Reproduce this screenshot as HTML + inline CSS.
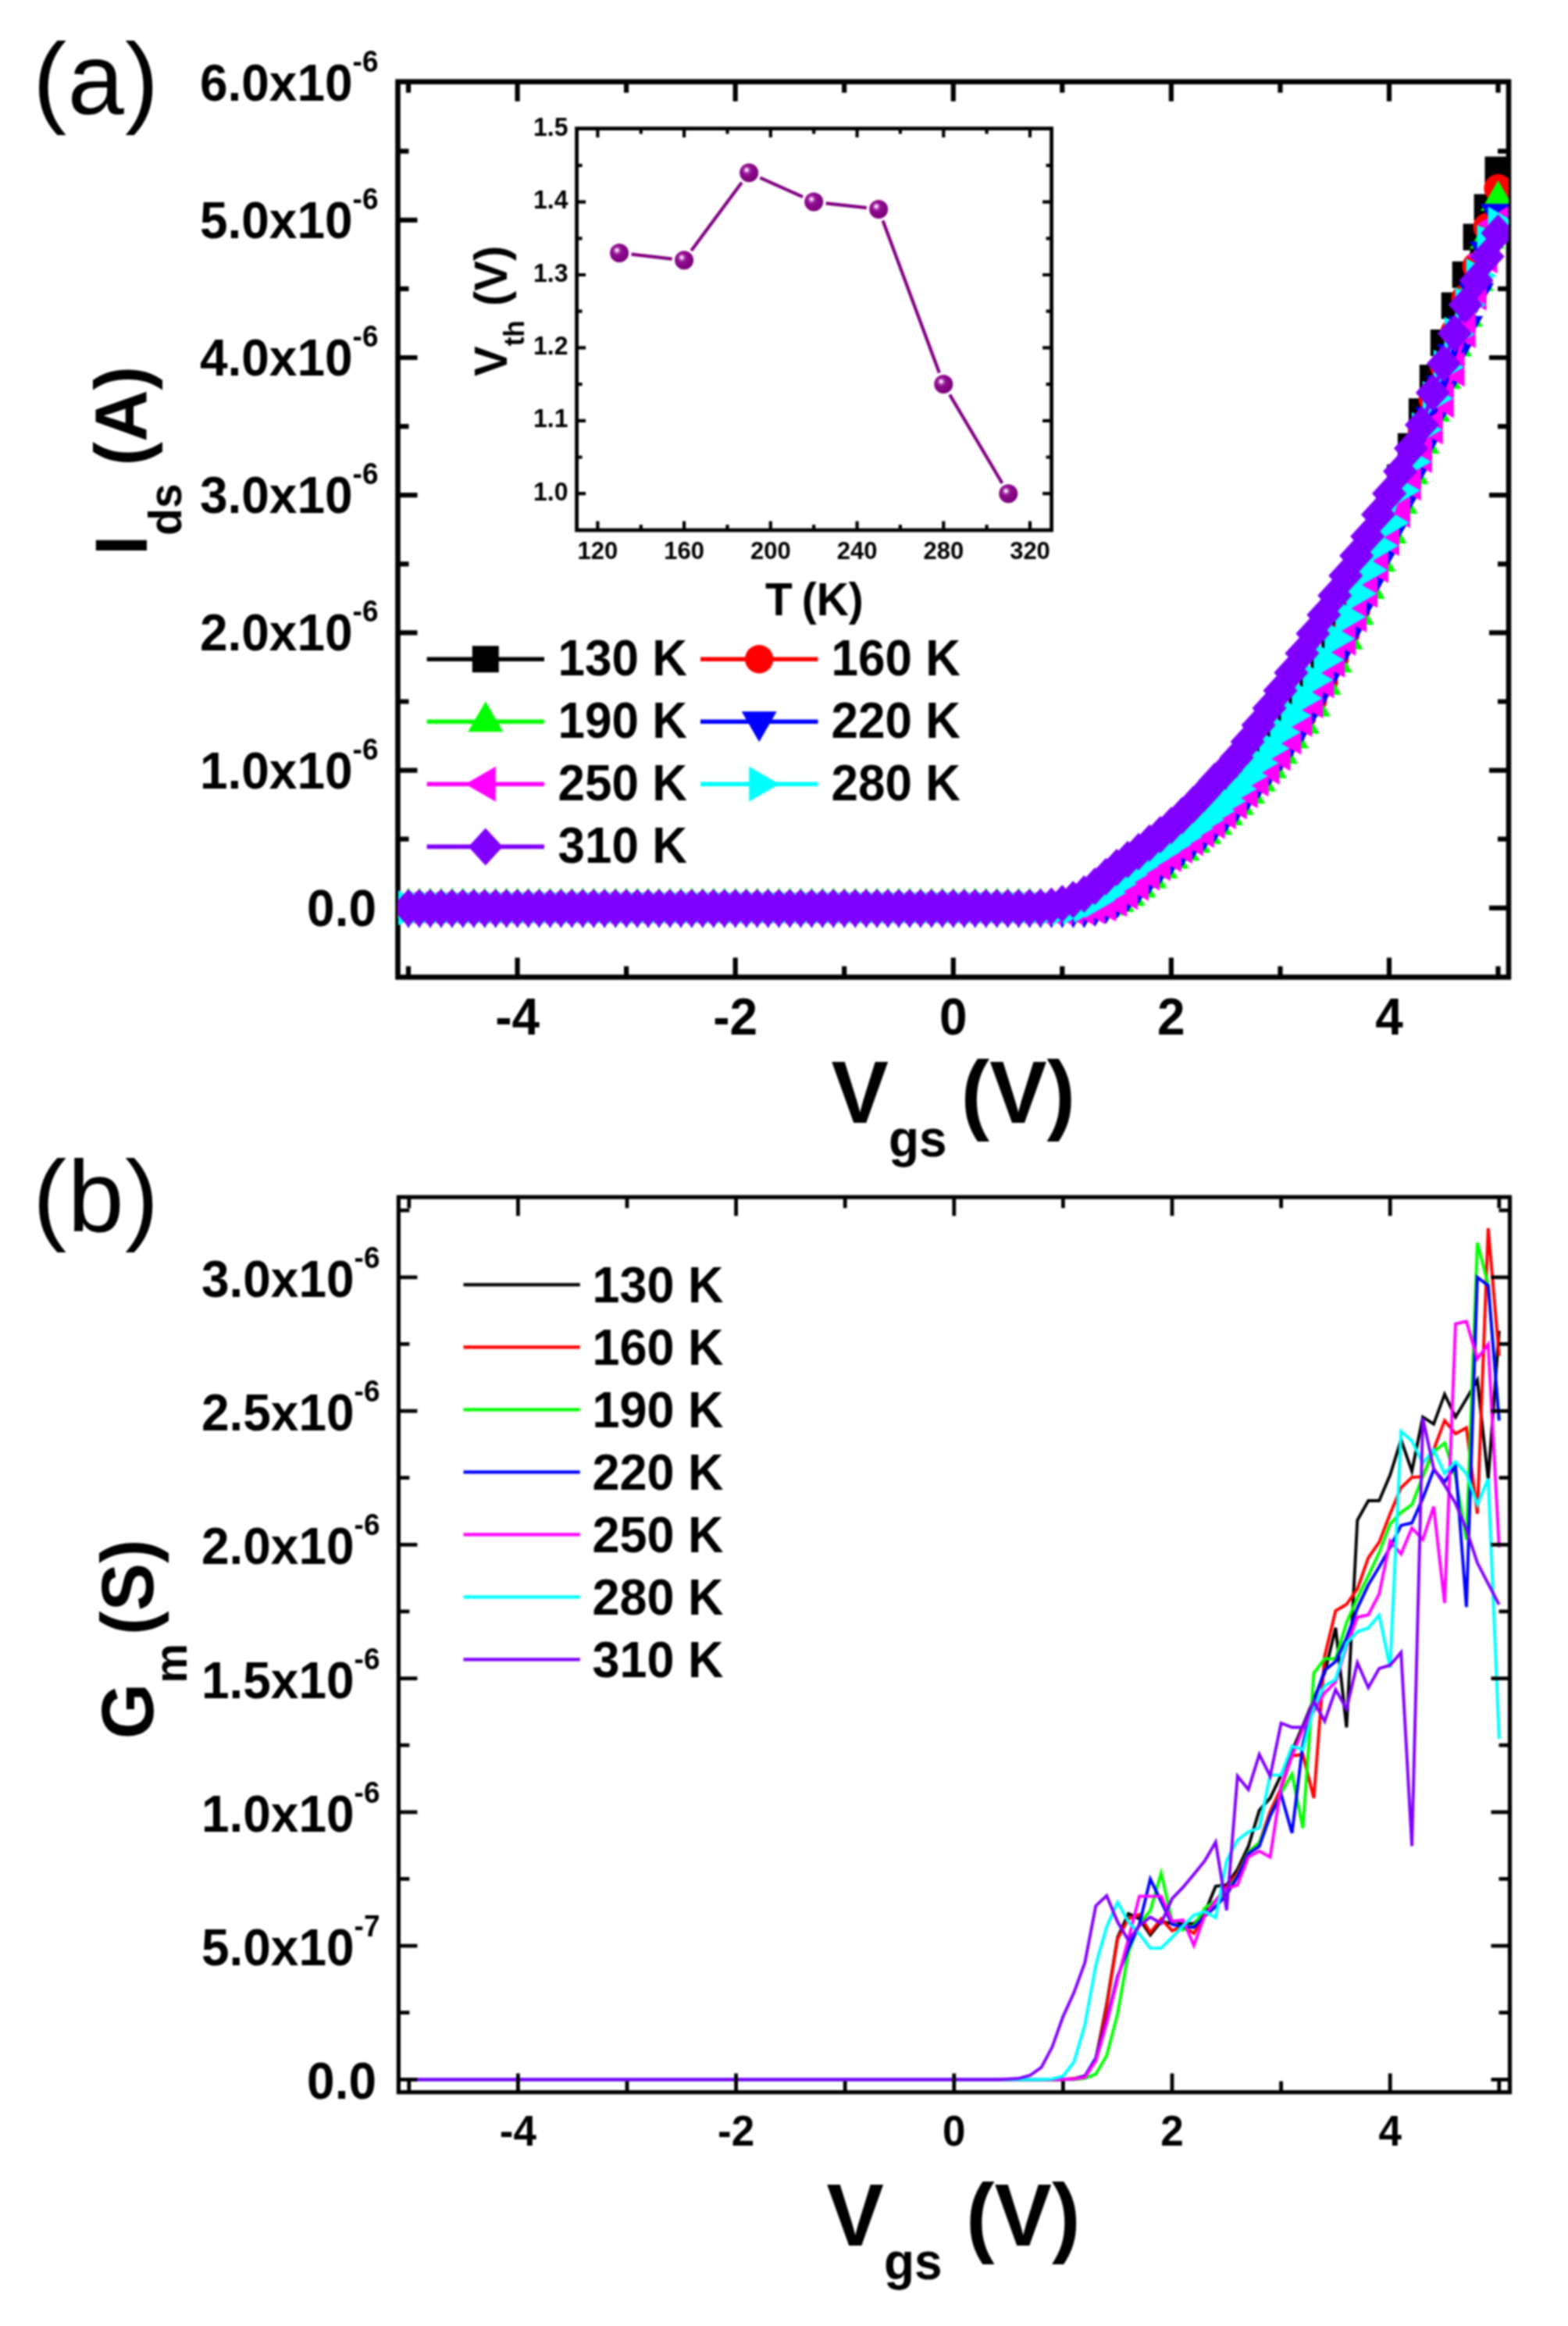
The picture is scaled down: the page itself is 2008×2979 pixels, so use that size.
<!DOCTYPE html>
<html><head><meta charset="utf-8"><title>Figure</title>
<style>html,body{margin:0;padding:0;background:#fff}svg{display:block;filter:blur(1px)}text{font-family:"Liberation Sans", Arial, Helvetica, sans-serif;fill:#000}</style>
</head><body>
<svg width="2008" height="2979" viewBox="0 0 2008 2979">
<rect width="2008" height="2979" fill="#fff"/>
<defs>
<clipPath id="ca"><rect x="509.5" y="104.7" width="1422.5" height="1146.8"/></clipPath>
<clipPath id="cb"><rect x="510.4" y="1533.2" width="1423.1" height="1146.4"/></clipPath>
<radialGradient id="ball" cx="0.40" cy="0.38" r="0.62" fx="0.37" fy="0.35"><stop offset="0" stop-color="#ffffff"/><stop offset="0.14" stop-color="#e9b8e9"/><stop offset="0.24" stop-color="#b040b0"/><stop offset="0.42" stop-color="#8e0c8e"/><stop offset="1" stop-color="#7a007a"/></radialGradient>
<rect id="m130" x="-17" y="-17" width="34" height="34" fill="#000"/>
<circle id="m160" r="18.2" fill="#f00"/>
<path id="m190" d="M0-26L22.5 13H-22.5Z" fill="#0f0"/>
<path id="m220" d="M0 26L22.5-13H-22.5Z" fill="#00f"/>
<path id="m250" d="M-26 0L13-22.5V22.5Z" fill="#f0f"/>
<path id="m280" d="M26 0L-13-22.5V22.5Z" fill="#0ff"/>
<path id="m310" d="M0-24L22 0L0 24L-22 0Z" fill="#8000ff"/>
</defs>
<path d="M662.6 1251.5v-25 M662.6 104.7v25 M941.7 1251.5v-25 M941.7 104.7v25 M1220.8 1251.5v-25 M1220.8 104.7v25 M1499.9 1251.5v-25 M1499.9 104.7v25 M1779 1251.5v-25 M1779 104.7v25 M523 1251.5v-14 M523 104.7v14 M802.1 1251.5v-14 M802.1 104.7v14 M1081.2 1251.5v-14 M1081.2 104.7v14 M1360.3 1251.5v-14 M1360.3 104.7v14 M1639.5 1251.5v-14 M1639.5 104.7v14 M1918.5 1251.5v-14 M1918.5 104.7v14 M509.5 1162.8h25 M1932 1162.8h-25 M509.5 986.6h25 M1932 986.6h-25 M509.5 810.4h25 M1932 810.4h-25 M509.5 634.2h25 M1932 634.2h-25 M509.5 458h25 M1932 458h-25 M509.5 281.8h25 M1932 281.8h-25 M509.5 1074.7h14 M1932 1074.7h-14 M509.5 898.5h14 M1932 898.5h-14 M509.5 722.3h14 M1932 722.3h-14 M509.5 546.1h14 M1932 546.1h-14 M509.5 369.9h14 M1932 369.9h-14 M509.5 193.7h14 M1932 193.7h-14" stroke="#000" stroke-width="6.2" fill="none" stroke-linecap="butt"/>
<rect x="509.5" y="104.7" width="1422.5" height="1146.8" fill="none" stroke="#000" stroke-width="6.6"/>
<g clip-path="url(#ca)">
<polyline points="523,1162.8 537,1162.8 551,1162.8 564.9,1162.8 578.9,1162.8 592.8,1162.8 606.8,1162.8 620.7,1162.8 634.7,1162.8 648.6,1162.8 662.6,1162.8 676.6,1162.8 690.5,1162.8 704.5,1162.8 718.4,1162.8 732.4,1162.8 746.3,1162.8 760.3,1162.8 774.2,1162.8 788.2,1162.8 802.1,1162.8 816.1,1162.8 830.1,1162.8 844,1162.8 858,1162.8 871.9,1162.8 885.9,1162.8 899.8,1162.8 913.8,1162.8 927.7,1162.8 941.7,1162.8 955.7,1162.8 969.6,1162.8 983.6,1162.8 997.5,1162.8 1011.5,1162.8 1025.4,1162.8 1039.4,1162.8 1053.3,1162.8 1067.3,1162.8 1081.2,1162.8 1095.2,1162.8 1109.2,1162.8 1123.1,1162.8 1137.1,1162.8 1151,1162.8 1165,1162.8 1178.9,1162.8 1192.9,1162.8 1206.8,1162.8 1220.8,1162.8 1234.8,1162.8 1248.7,1162.8 1262.7,1162.8 1276.6,1162.8 1290.6,1162.8 1304.5,1162.8 1318.5,1162.8 1332.4,1162.8 1346.4,1162.8 1360.3,1162.8 1374.3,1162.8 1388.3,1162.6 1402.2,1161 1416.2,1156.9 1430.1,1148.7 1444.1,1137.4 1458,1125.6 1472,1114.4 1485.9,1104.2 1499.9,1093.7 1513.9,1083.2 1527.8,1072.6 1541.8,1061.8 1555.7,1049.7 1569.7,1036.6 1583.6,1023 1597.6,1008.1 1611.5,991.2 1625.5,972.6 1639.5,952.9 1653.4,931.6 1667.4,908.6 1681.3,883.9 1695.3,857.4 1709.2,828.5 1723.2,801.4 1737.1,770.8 1751.1,732.5 1765,693.5 1779,653.6 1793,611.8 1806.9,571.8 1820.9,527.2 1834.8,484.1 1848.8,439 1862.7,391.4 1876.7,351.8 1890.6,303.6 1904.6,265.6 1918.5,217.5" fill="none" stroke="#000000" stroke-width="5"/>
<g><use href="#m130" x="523" y="1162.8"/><use href="#m130" x="537" y="1162.8"/><use href="#m130" x="551" y="1162.8"/><use href="#m130" x="564.9" y="1162.8"/><use href="#m130" x="578.9" y="1162.8"/><use href="#m130" x="592.8" y="1162.8"/><use href="#m130" x="606.8" y="1162.8"/><use href="#m130" x="620.7" y="1162.8"/><use href="#m130" x="634.7" y="1162.8"/><use href="#m130" x="648.6" y="1162.8"/><use href="#m130" x="662.6" y="1162.8"/><use href="#m130" x="676.6" y="1162.8"/><use href="#m130" x="690.5" y="1162.8"/><use href="#m130" x="704.5" y="1162.8"/><use href="#m130" x="718.4" y="1162.8"/><use href="#m130" x="732.4" y="1162.8"/><use href="#m130" x="746.3" y="1162.8"/><use href="#m130" x="760.3" y="1162.8"/><use href="#m130" x="774.2" y="1162.8"/><use href="#m130" x="788.2" y="1162.8"/><use href="#m130" x="802.1" y="1162.8"/><use href="#m130" x="816.1" y="1162.8"/><use href="#m130" x="830.1" y="1162.8"/><use href="#m130" x="844" y="1162.8"/><use href="#m130" x="858" y="1162.8"/><use href="#m130" x="871.9" y="1162.8"/><use href="#m130" x="885.9" y="1162.8"/><use href="#m130" x="899.8" y="1162.8"/><use href="#m130" x="913.8" y="1162.8"/><use href="#m130" x="927.7" y="1162.8"/><use href="#m130" x="941.7" y="1162.8"/><use href="#m130" x="955.7" y="1162.8"/><use href="#m130" x="969.6" y="1162.8"/><use href="#m130" x="983.6" y="1162.8"/><use href="#m130" x="997.5" y="1162.8"/><use href="#m130" x="1011.5" y="1162.8"/><use href="#m130" x="1025.4" y="1162.8"/><use href="#m130" x="1039.4" y="1162.8"/><use href="#m130" x="1053.3" y="1162.8"/><use href="#m130" x="1067.3" y="1162.8"/><use href="#m130" x="1081.2" y="1162.8"/><use href="#m130" x="1095.2" y="1162.8"/><use href="#m130" x="1109.2" y="1162.8"/><use href="#m130" x="1123.1" y="1162.8"/><use href="#m130" x="1137.1" y="1162.8"/><use href="#m130" x="1151" y="1162.8"/><use href="#m130" x="1165" y="1162.8"/><use href="#m130" x="1178.9" y="1162.8"/><use href="#m130" x="1192.9" y="1162.8"/><use href="#m130" x="1206.8" y="1162.8"/><use href="#m130" x="1220.8" y="1162.8"/><use href="#m130" x="1234.8" y="1162.8"/><use href="#m130" x="1248.7" y="1162.8"/><use href="#m130" x="1262.7" y="1162.8"/><use href="#m130" x="1276.6" y="1162.8"/><use href="#m130" x="1290.6" y="1162.8"/><use href="#m130" x="1304.5" y="1162.8"/><use href="#m130" x="1318.5" y="1162.8"/><use href="#m130" x="1332.4" y="1162.8"/><use href="#m130" x="1346.4" y="1162.8"/><use href="#m130" x="1360.3" y="1162.8"/><use href="#m130" x="1374.3" y="1162.8"/><use href="#m130" x="1388.3" y="1162.6"/><use href="#m130" x="1402.2" y="1161"/><use href="#m130" x="1416.2" y="1156.9"/><use href="#m130" x="1430.1" y="1148.7"/><use href="#m130" x="1444.1" y="1137.4"/><use href="#m130" x="1458" y="1125.6"/><use href="#m130" x="1472" y="1114.4"/><use href="#m130" x="1485.9" y="1104.2"/><use href="#m130" x="1499.9" y="1093.7"/><use href="#m130" x="1513.9" y="1083.2"/><use href="#m130" x="1527.8" y="1072.6"/><use href="#m130" x="1541.8" y="1061.8"/><use href="#m130" x="1555.7" y="1049.7"/><use href="#m130" x="1569.7" y="1036.6"/><use href="#m130" x="1583.6" y="1023"/><use href="#m130" x="1597.6" y="1008.1"/><use href="#m130" x="1611.5" y="991.2"/><use href="#m130" x="1625.5" y="972.6"/><use href="#m130" x="1639.5" y="952.9"/><use href="#m130" x="1653.4" y="931.6"/><use href="#m130" x="1667.4" y="908.6"/><use href="#m130" x="1681.3" y="883.9"/><use href="#m130" x="1695.3" y="857.4"/><use href="#m130" x="1709.2" y="828.5"/><use href="#m130" x="1723.2" y="801.4"/><use href="#m130" x="1737.1" y="770.8"/><use href="#m130" x="1751.1" y="732.5"/><use href="#m130" x="1765" y="693.5"/><use href="#m130" x="1779" y="653.6"/><use href="#m130" x="1793" y="611.8"/><use href="#m130" x="1806.9" y="571.8"/><use href="#m130" x="1820.9" y="527.2"/><use href="#m130" x="1834.8" y="484.1"/><use href="#m130" x="1848.8" y="439"/><use href="#m130" x="1862.7" y="391.4"/><use href="#m130" x="1876.7" y="351.8"/><use href="#m130" x="1890.6" y="303.6"/><use href="#m130" x="1904.6" y="265.6"/><use href="#m130" x="1918.5" y="217.5"/></g>
<polyline points="523,1162.8 537,1162.8 551,1162.8 564.9,1162.8 578.9,1162.8 592.8,1162.8 606.8,1162.8 620.7,1162.8 634.7,1162.8 648.6,1162.8 662.6,1162.8 676.6,1162.8 690.5,1162.8 704.5,1162.8 718.4,1162.8 732.4,1162.8 746.3,1162.8 760.3,1162.8 774.2,1162.8 788.2,1162.8 802.1,1162.8 816.1,1162.8 830.1,1162.8 844,1162.8 858,1162.8 871.9,1162.8 885.9,1162.8 899.8,1162.8 913.8,1162.8 927.7,1162.8 941.7,1162.8 955.7,1162.8 969.6,1162.8 983.6,1162.8 997.5,1162.8 1011.5,1162.8 1025.4,1162.8 1039.4,1162.8 1053.3,1162.8 1067.3,1162.8 1081.2,1162.8 1095.2,1162.8 1109.2,1162.8 1123.1,1162.8 1137.1,1162.8 1151,1162.8 1165,1162.8 1178.9,1162.8 1192.9,1162.8 1206.8,1162.8 1220.8,1162.8 1234.8,1162.8 1248.7,1162.8 1262.7,1162.8 1276.6,1162.8 1290.6,1162.8 1304.5,1162.8 1318.5,1162.8 1332.4,1162.8 1346.4,1162.8 1360.3,1162.8 1374.3,1162.8 1388.3,1162.6 1402.2,1161 1416.2,1157.1 1430.1,1149 1444.1,1138 1458,1126.1 1472,1114.7 1485.9,1104.4 1499.9,1094 1513.9,1083.8 1527.8,1073.7 1541.8,1063.2 1555.7,1051.7 1569.7,1039.2 1583.6,1025.7 1597.6,1011.1 1611.5,995.5 1625.5,978.5 1639.5,959.7 1653.4,939 1667.4,917.1 1681.3,896.7 1695.3,873 1709.2,843 1723.2,811.2 1737.1,778.7 1751.1,744.6 1765,708.9 1779,671.8 1793,632.9 1806.9,593 1820.9,552.8 1834.8,511.6 1848.8,468.6 1862.7,425.1 1876.7,381.8 1890.6,341.1 1904.6,290.8 1918.5,241.3" fill="none" stroke="#ff0000" stroke-width="5"/>
<g><use href="#m160" x="523" y="1162.8"/><use href="#m160" x="537" y="1162.8"/><use href="#m160" x="551" y="1162.8"/><use href="#m160" x="564.9" y="1162.8"/><use href="#m160" x="578.9" y="1162.8"/><use href="#m160" x="592.8" y="1162.8"/><use href="#m160" x="606.8" y="1162.8"/><use href="#m160" x="620.7" y="1162.8"/><use href="#m160" x="634.7" y="1162.8"/><use href="#m160" x="648.6" y="1162.8"/><use href="#m160" x="662.6" y="1162.8"/><use href="#m160" x="676.6" y="1162.8"/><use href="#m160" x="690.5" y="1162.8"/><use href="#m160" x="704.5" y="1162.8"/><use href="#m160" x="718.4" y="1162.8"/><use href="#m160" x="732.4" y="1162.8"/><use href="#m160" x="746.3" y="1162.8"/><use href="#m160" x="760.3" y="1162.8"/><use href="#m160" x="774.2" y="1162.8"/><use href="#m160" x="788.2" y="1162.8"/><use href="#m160" x="802.1" y="1162.8"/><use href="#m160" x="816.1" y="1162.8"/><use href="#m160" x="830.1" y="1162.8"/><use href="#m160" x="844" y="1162.8"/><use href="#m160" x="858" y="1162.8"/><use href="#m160" x="871.9" y="1162.8"/><use href="#m160" x="885.9" y="1162.8"/><use href="#m160" x="899.8" y="1162.8"/><use href="#m160" x="913.8" y="1162.8"/><use href="#m160" x="927.7" y="1162.8"/><use href="#m160" x="941.7" y="1162.8"/><use href="#m160" x="955.7" y="1162.8"/><use href="#m160" x="969.6" y="1162.8"/><use href="#m160" x="983.6" y="1162.8"/><use href="#m160" x="997.5" y="1162.8"/><use href="#m160" x="1011.5" y="1162.8"/><use href="#m160" x="1025.4" y="1162.8"/><use href="#m160" x="1039.4" y="1162.8"/><use href="#m160" x="1053.3" y="1162.8"/><use href="#m160" x="1067.3" y="1162.8"/><use href="#m160" x="1081.2" y="1162.8"/><use href="#m160" x="1095.2" y="1162.8"/><use href="#m160" x="1109.2" y="1162.8"/><use href="#m160" x="1123.1" y="1162.8"/><use href="#m160" x="1137.1" y="1162.8"/><use href="#m160" x="1151" y="1162.8"/><use href="#m160" x="1165" y="1162.8"/><use href="#m160" x="1178.9" y="1162.8"/><use href="#m160" x="1192.9" y="1162.8"/><use href="#m160" x="1206.8" y="1162.8"/><use href="#m160" x="1220.8" y="1162.8"/><use href="#m160" x="1234.8" y="1162.8"/><use href="#m160" x="1248.7" y="1162.8"/><use href="#m160" x="1262.7" y="1162.8"/><use href="#m160" x="1276.6" y="1162.8"/><use href="#m160" x="1290.6" y="1162.8"/><use href="#m160" x="1304.5" y="1162.8"/><use href="#m160" x="1318.5" y="1162.8"/><use href="#m160" x="1332.4" y="1162.8"/><use href="#m160" x="1346.4" y="1162.8"/><use href="#m160" x="1360.3" y="1162.8"/><use href="#m160" x="1374.3" y="1162.8"/><use href="#m160" x="1388.3" y="1162.6"/><use href="#m160" x="1402.2" y="1161"/><use href="#m160" x="1416.2" y="1157.1"/><use href="#m160" x="1430.1" y="1149"/><use href="#m160" x="1444.1" y="1138"/><use href="#m160" x="1458" y="1126.1"/><use href="#m160" x="1472" y="1114.7"/><use href="#m160" x="1485.9" y="1104.4"/><use href="#m160" x="1499.9" y="1094"/><use href="#m160" x="1513.9" y="1083.8"/><use href="#m160" x="1527.8" y="1073.7"/><use href="#m160" x="1541.8" y="1063.2"/><use href="#m160" x="1555.7" y="1051.7"/><use href="#m160" x="1569.7" y="1039.2"/><use href="#m160" x="1583.6" y="1025.7"/><use href="#m160" x="1597.6" y="1011.1"/><use href="#m160" x="1611.5" y="995.5"/><use href="#m160" x="1625.5" y="978.5"/><use href="#m160" x="1639.5" y="959.7"/><use href="#m160" x="1653.4" y="939"/><use href="#m160" x="1667.4" y="917.1"/><use href="#m160" x="1681.3" y="896.7"/><use href="#m160" x="1695.3" y="873"/><use href="#m160" x="1709.2" y="843"/><use href="#m160" x="1723.2" y="811.2"/><use href="#m160" x="1737.1" y="778.7"/><use href="#m160" x="1751.1" y="744.6"/><use href="#m160" x="1765" y="708.9"/><use href="#m160" x="1779" y="671.8"/><use href="#m160" x="1793" y="632.9"/><use href="#m160" x="1806.9" y="593"/><use href="#m160" x="1820.9" y="552.8"/><use href="#m160" x="1834.8" y="511.6"/><use href="#m160" x="1848.8" y="468.6"/><use href="#m160" x="1862.7" y="425.1"/><use href="#m160" x="1876.7" y="381.8"/><use href="#m160" x="1890.6" y="341.1"/><use href="#m160" x="1904.6" y="290.8"/><use href="#m160" x="1918.5" y="241.3"/></g>
<polyline points="523,1162.8 537,1162.8 551,1162.8 564.9,1162.8 578.9,1162.8 592.8,1162.8 606.8,1162.8 620.7,1162.8 634.7,1162.8 648.6,1162.8 662.6,1162.8 676.6,1162.8 690.5,1162.8 704.5,1162.8 718.4,1162.8 732.4,1162.8 746.3,1162.8 760.3,1162.8 774.2,1162.8 788.2,1162.8 802.1,1162.8 816.1,1162.8 830.1,1162.8 844,1162.8 858,1162.8 871.9,1162.8 885.9,1162.8 899.8,1162.8 913.8,1162.8 927.7,1162.8 941.7,1162.8 955.7,1162.8 969.6,1162.8 983.6,1162.8 997.5,1162.8 1011.5,1162.8 1025.4,1162.8 1039.4,1162.8 1053.3,1162.8 1067.3,1162.8 1081.2,1162.8 1095.2,1162.8 1109.2,1162.8 1123.1,1162.8 1137.1,1162.8 1151,1162.8 1165,1162.8 1178.9,1162.8 1192.9,1162.8 1206.8,1162.8 1220.8,1162.8 1234.8,1162.8 1248.7,1162.8 1262.7,1162.8 1276.6,1162.8 1290.6,1162.8 1304.5,1162.8 1318.5,1162.8 1332.4,1162.8 1346.4,1162.8 1360.3,1162.8 1374.3,1162.8 1388.3,1162.8 1402.2,1161.4 1416.2,1159.2 1430.1,1155 1444.1,1147.3 1458,1136.6 1472,1124.6 1485.9,1111.9 1499.9,1099.6 1513.9,1089.3 1527.8,1079.1 1541.8,1068.1 1555.7,1056.3 1569.7,1044 1583.6,1030.8 1597.6,1016.3 1611.5,1000.7 1625.5,983.8 1639.5,965.3 1653.4,945.4 1667.4,926.7 1681.3,904.5 1695.3,876.7 1709.2,848.3 1723.2,818.8 1737.1,787.2 1751.1,754 1765,719.3 1779,682.9 1793,645.1 1806.9,607.1 1820.9,567.9 1834.8,526.9 1848.8,484.9 1862.7,443.6 1876.7,405.6 1890.6,359.8 1904.6,305.5 1918.5,257.1" fill="none" stroke="#00ff00" stroke-width="5"/>
<g><use href="#m190" x="523" y="1162.8"/><use href="#m190" x="537" y="1162.8"/><use href="#m190" x="551" y="1162.8"/><use href="#m190" x="564.9" y="1162.8"/><use href="#m190" x="578.9" y="1162.8"/><use href="#m190" x="592.8" y="1162.8"/><use href="#m190" x="606.8" y="1162.8"/><use href="#m190" x="620.7" y="1162.8"/><use href="#m190" x="634.7" y="1162.8"/><use href="#m190" x="648.6" y="1162.8"/><use href="#m190" x="662.6" y="1162.8"/><use href="#m190" x="676.6" y="1162.8"/><use href="#m190" x="690.5" y="1162.8"/><use href="#m190" x="704.5" y="1162.8"/><use href="#m190" x="718.4" y="1162.8"/><use href="#m190" x="732.4" y="1162.8"/><use href="#m190" x="746.3" y="1162.8"/><use href="#m190" x="760.3" y="1162.8"/><use href="#m190" x="774.2" y="1162.8"/><use href="#m190" x="788.2" y="1162.8"/><use href="#m190" x="802.1" y="1162.8"/><use href="#m190" x="816.1" y="1162.8"/><use href="#m190" x="830.1" y="1162.8"/><use href="#m190" x="844" y="1162.8"/><use href="#m190" x="858" y="1162.8"/><use href="#m190" x="871.9" y="1162.8"/><use href="#m190" x="885.9" y="1162.8"/><use href="#m190" x="899.8" y="1162.8"/><use href="#m190" x="913.8" y="1162.8"/><use href="#m190" x="927.7" y="1162.8"/><use href="#m190" x="941.7" y="1162.8"/><use href="#m190" x="955.7" y="1162.8"/><use href="#m190" x="969.6" y="1162.8"/><use href="#m190" x="983.6" y="1162.8"/><use href="#m190" x="997.5" y="1162.8"/><use href="#m190" x="1011.5" y="1162.8"/><use href="#m190" x="1025.4" y="1162.8"/><use href="#m190" x="1039.4" y="1162.8"/><use href="#m190" x="1053.3" y="1162.8"/><use href="#m190" x="1067.3" y="1162.8"/><use href="#m190" x="1081.2" y="1162.8"/><use href="#m190" x="1095.2" y="1162.8"/><use href="#m190" x="1109.2" y="1162.8"/><use href="#m190" x="1123.1" y="1162.8"/><use href="#m190" x="1137.1" y="1162.8"/><use href="#m190" x="1151" y="1162.8"/><use href="#m190" x="1165" y="1162.8"/><use href="#m190" x="1178.9" y="1162.8"/><use href="#m190" x="1192.9" y="1162.8"/><use href="#m190" x="1206.8" y="1162.8"/><use href="#m190" x="1220.8" y="1162.8"/><use href="#m190" x="1234.8" y="1162.8"/><use href="#m190" x="1248.7" y="1162.8"/><use href="#m190" x="1262.7" y="1162.8"/><use href="#m190" x="1276.6" y="1162.8"/><use href="#m190" x="1290.6" y="1162.8"/><use href="#m190" x="1304.5" y="1162.8"/><use href="#m190" x="1318.5" y="1162.8"/><use href="#m190" x="1332.4" y="1162.8"/><use href="#m190" x="1346.4" y="1162.8"/><use href="#m190" x="1360.3" y="1162.8"/><use href="#m190" x="1374.3" y="1162.8"/><use href="#m190" x="1388.3" y="1162.8"/><use href="#m190" x="1402.2" y="1161.4"/><use href="#m190" x="1416.2" y="1159.2"/><use href="#m190" x="1430.1" y="1155"/><use href="#m190" x="1444.1" y="1147.3"/><use href="#m190" x="1458" y="1136.6"/><use href="#m190" x="1472" y="1124.6"/><use href="#m190" x="1485.9" y="1111.9"/><use href="#m190" x="1499.9" y="1099.6"/><use href="#m190" x="1513.9" y="1089.3"/><use href="#m190" x="1527.8" y="1079.1"/><use href="#m190" x="1541.8" y="1068.1"/><use href="#m190" x="1555.7" y="1056.3"/><use href="#m190" x="1569.7" y="1044"/><use href="#m190" x="1583.6" y="1030.8"/><use href="#m190" x="1597.6" y="1016.3"/><use href="#m190" x="1611.5" y="1000.7"/><use href="#m190" x="1625.5" y="983.8"/><use href="#m190" x="1639.5" y="965.3"/><use href="#m190" x="1653.4" y="945.4"/><use href="#m190" x="1667.4" y="926.7"/><use href="#m190" x="1681.3" y="904.5"/><use href="#m190" x="1695.3" y="876.7"/><use href="#m190" x="1709.2" y="848.3"/><use href="#m190" x="1723.2" y="818.8"/><use href="#m190" x="1737.1" y="787.2"/><use href="#m190" x="1751.1" y="754"/><use href="#m190" x="1765" y="719.3"/><use href="#m190" x="1779" y="682.9"/><use href="#m190" x="1793" y="645.1"/><use href="#m190" x="1806.9" y="607.1"/><use href="#m190" x="1820.9" y="567.9"/><use href="#m190" x="1834.8" y="526.9"/><use href="#m190" x="1848.8" y="484.9"/><use href="#m190" x="1862.7" y="443.6"/><use href="#m190" x="1876.7" y="405.6"/><use href="#m190" x="1890.6" y="359.8"/><use href="#m190" x="1904.6" y="305.5"/><use href="#m190" x="1918.5" y="257.1"/></g>
<polyline points="523,1162.8 537,1162.8 551,1162.8 564.9,1162.8 578.9,1162.8 592.8,1162.8 606.8,1162.8 620.7,1162.8 634.7,1162.8 648.6,1162.8 662.6,1162.8 676.6,1162.8 690.5,1162.8 704.5,1162.8 718.4,1162.8 732.4,1162.8 746.3,1162.8 760.3,1162.8 774.2,1162.8 788.2,1162.8 802.1,1162.8 816.1,1162.8 830.1,1162.8 844,1162.8 858,1162.8 871.9,1162.8 885.9,1162.8 899.8,1162.8 913.8,1162.8 927.7,1162.8 941.7,1162.8 955.7,1162.8 969.6,1162.8 983.6,1162.8 997.5,1162.8 1011.5,1162.8 1025.4,1162.8 1039.4,1162.8 1053.3,1162.8 1067.3,1162.8 1081.2,1162.8 1095.2,1162.8 1109.2,1162.8 1123.1,1162.8 1137.1,1162.8 1151,1162.8 1165,1162.8 1178.9,1162.8 1192.9,1162.8 1206.8,1162.8 1220.8,1162.8 1234.8,1162.8 1248.7,1162.8 1262.7,1162.8 1276.6,1162.8 1290.6,1162.8 1304.5,1162.8 1318.5,1162.8 1332.4,1162.8 1346.4,1162.8 1360.3,1162.8 1374.3,1162.8 1388.3,1162.7 1402.2,1160.9 1416.2,1157.4 1430.1,1151 1444.1,1142.2 1458,1131.7 1472,1118.9 1485.9,1106.1 1499.9,1094.9 1513.9,1084.5 1527.8,1074.3 1541.8,1063.7 1555.7,1052.3 1569.7,1040.3 1583.6,1027.2 1597.6,1012.8 1611.5,997.3 1625.5,980.6 1639.5,962.2 1653.4,944.3 1667.4,924.7 1681.3,900.6 1695.3,874.1 1709.2,846.3 1723.2,817.3 1737.1,786.6 1751.1,754.1 1765,720.2 1779,685 1793,648.4 1806.9,611.5 1820.9,573.7 1834.8,534.2 1848.8,494 1862.7,453.8 1876.7,417.7 1890.6,375.4 1904.6,322.3 1918.5,274" fill="none" stroke="#0000ff" stroke-width="5"/>
<g><use href="#m220" x="523" y="1162.8"/><use href="#m220" x="537" y="1162.8"/><use href="#m220" x="551" y="1162.8"/><use href="#m220" x="564.9" y="1162.8"/><use href="#m220" x="578.9" y="1162.8"/><use href="#m220" x="592.8" y="1162.8"/><use href="#m220" x="606.8" y="1162.8"/><use href="#m220" x="620.7" y="1162.8"/><use href="#m220" x="634.7" y="1162.8"/><use href="#m220" x="648.6" y="1162.8"/><use href="#m220" x="662.6" y="1162.8"/><use href="#m220" x="676.6" y="1162.8"/><use href="#m220" x="690.5" y="1162.8"/><use href="#m220" x="704.5" y="1162.8"/><use href="#m220" x="718.4" y="1162.8"/><use href="#m220" x="732.4" y="1162.8"/><use href="#m220" x="746.3" y="1162.8"/><use href="#m220" x="760.3" y="1162.8"/><use href="#m220" x="774.2" y="1162.8"/><use href="#m220" x="788.2" y="1162.8"/><use href="#m220" x="802.1" y="1162.8"/><use href="#m220" x="816.1" y="1162.8"/><use href="#m220" x="830.1" y="1162.8"/><use href="#m220" x="844" y="1162.8"/><use href="#m220" x="858" y="1162.8"/><use href="#m220" x="871.9" y="1162.8"/><use href="#m220" x="885.9" y="1162.8"/><use href="#m220" x="899.8" y="1162.8"/><use href="#m220" x="913.8" y="1162.8"/><use href="#m220" x="927.7" y="1162.8"/><use href="#m220" x="941.7" y="1162.8"/><use href="#m220" x="955.7" y="1162.8"/><use href="#m220" x="969.6" y="1162.8"/><use href="#m220" x="983.6" y="1162.8"/><use href="#m220" x="997.5" y="1162.8"/><use href="#m220" x="1011.5" y="1162.8"/><use href="#m220" x="1025.4" y="1162.8"/><use href="#m220" x="1039.4" y="1162.8"/><use href="#m220" x="1053.3" y="1162.8"/><use href="#m220" x="1067.3" y="1162.8"/><use href="#m220" x="1081.2" y="1162.8"/><use href="#m220" x="1095.2" y="1162.8"/><use href="#m220" x="1109.2" y="1162.8"/><use href="#m220" x="1123.1" y="1162.8"/><use href="#m220" x="1137.1" y="1162.8"/><use href="#m220" x="1151" y="1162.8"/><use href="#m220" x="1165" y="1162.8"/><use href="#m220" x="1178.9" y="1162.8"/><use href="#m220" x="1192.9" y="1162.8"/><use href="#m220" x="1206.8" y="1162.8"/><use href="#m220" x="1220.8" y="1162.8"/><use href="#m220" x="1234.8" y="1162.8"/><use href="#m220" x="1248.7" y="1162.8"/><use href="#m220" x="1262.7" y="1162.8"/><use href="#m220" x="1276.6" y="1162.8"/><use href="#m220" x="1290.6" y="1162.8"/><use href="#m220" x="1304.5" y="1162.8"/><use href="#m220" x="1318.5" y="1162.8"/><use href="#m220" x="1332.4" y="1162.8"/><use href="#m220" x="1346.4" y="1162.8"/><use href="#m220" x="1360.3" y="1162.8"/><use href="#m220" x="1374.3" y="1162.8"/><use href="#m220" x="1388.3" y="1162.7"/><use href="#m220" x="1402.2" y="1160.9"/><use href="#m220" x="1416.2" y="1157.4"/><use href="#m220" x="1430.1" y="1151"/><use href="#m220" x="1444.1" y="1142.2"/><use href="#m220" x="1458" y="1131.7"/><use href="#m220" x="1472" y="1118.9"/><use href="#m220" x="1485.9" y="1106.1"/><use href="#m220" x="1499.9" y="1094.9"/><use href="#m220" x="1513.9" y="1084.5"/><use href="#m220" x="1527.8" y="1074.3"/><use href="#m220" x="1541.8" y="1063.7"/><use href="#m220" x="1555.7" y="1052.3"/><use href="#m220" x="1569.7" y="1040.3"/><use href="#m220" x="1583.6" y="1027.2"/><use href="#m220" x="1597.6" y="1012.8"/><use href="#m220" x="1611.5" y="997.3"/><use href="#m220" x="1625.5" y="980.6"/><use href="#m220" x="1639.5" y="962.2"/><use href="#m220" x="1653.4" y="944.3"/><use href="#m220" x="1667.4" y="924.7"/><use href="#m220" x="1681.3" y="900.6"/><use href="#m220" x="1695.3" y="874.1"/><use href="#m220" x="1709.2" y="846.3"/><use href="#m220" x="1723.2" y="817.3"/><use href="#m220" x="1737.1" y="786.6"/><use href="#m220" x="1751.1" y="754.1"/><use href="#m220" x="1765" y="720.2"/><use href="#m220" x="1779" y="685"/><use href="#m220" x="1793" y="648.4"/><use href="#m220" x="1806.9" y="611.5"/><use href="#m220" x="1820.9" y="573.7"/><use href="#m220" x="1834.8" y="534.2"/><use href="#m220" x="1848.8" y="494"/><use href="#m220" x="1862.7" y="453.8"/><use href="#m220" x="1876.7" y="417.7"/><use href="#m220" x="1890.6" y="375.4"/><use href="#m220" x="1904.6" y="322.3"/><use href="#m220" x="1918.5" y="274"/></g>
<polyline points="523,1162.8 537,1162.8 551,1162.8 564.9,1162.8 578.9,1162.8 592.8,1162.8 606.8,1162.8 620.7,1162.8 634.7,1162.8 648.6,1162.8 662.6,1162.8 676.6,1162.8 690.5,1162.8 704.5,1162.8 718.4,1162.8 732.4,1162.8 746.3,1162.8 760.3,1162.8 774.2,1162.8 788.2,1162.8 802.1,1162.8 816.1,1162.8 830.1,1162.8 844,1162.8 858,1162.8 871.9,1162.8 885.9,1162.8 899.8,1162.8 913.8,1162.8 927.7,1162.8 941.7,1162.8 955.7,1162.8 969.6,1162.8 983.6,1162.8 997.5,1162.8 1011.5,1162.8 1025.4,1162.8 1039.4,1162.8 1053.3,1162.8 1067.3,1162.8 1081.2,1162.8 1095.2,1162.8 1109.2,1162.8 1123.1,1162.8 1137.1,1162.8 1151,1162.8 1165,1162.8 1178.9,1162.8 1192.9,1162.8 1206.8,1162.8 1220.8,1162.8 1234.8,1162.8 1248.7,1162.8 1262.7,1162.8 1276.6,1162.8 1290.6,1162.8 1304.5,1162.8 1318.5,1162.8 1332.4,1162.8 1346.4,1162.8 1360.3,1162.8 1374.3,1162.8 1388.3,1162.7 1402.2,1161.2 1416.2,1157.9 1430.1,1151.9 1444.1,1143 1458,1131.4 1472,1118.3 1485.9,1105.9 1499.9,1094.4 1513.9,1083.7 1527.8,1073.9 1541.8,1063.8 1555.7,1052.3 1569.7,1039.8 1583.6,1026.9 1597.6,1012.8 1611.5,997.7 1625.5,982.5 1639.5,965.1 1653.4,944.3 1667.4,921.6 1681.3,897.4 1695.3,872 1709.2,845.6 1723.2,817.6 1737.1,787.5 1751.1,756.3 1765,724.3 1779,689.8 1793,654 1806.9,618.9 1820.9,583.4 1834.8,547.1 1848.8,513 1862.7,472.9 1876.7,423.6 1890.6,375.4 1904.6,328 1918.5,286.7" fill="none" stroke="#ff00ff" stroke-width="5"/>
<g><use href="#m250" x="523" y="1162.8"/><use href="#m250" x="537" y="1162.8"/><use href="#m250" x="551" y="1162.8"/><use href="#m250" x="564.9" y="1162.8"/><use href="#m250" x="578.9" y="1162.8"/><use href="#m250" x="592.8" y="1162.8"/><use href="#m250" x="606.8" y="1162.8"/><use href="#m250" x="620.7" y="1162.8"/><use href="#m250" x="634.7" y="1162.8"/><use href="#m250" x="648.6" y="1162.8"/><use href="#m250" x="662.6" y="1162.8"/><use href="#m250" x="676.6" y="1162.8"/><use href="#m250" x="690.5" y="1162.8"/><use href="#m250" x="704.5" y="1162.8"/><use href="#m250" x="718.4" y="1162.8"/><use href="#m250" x="732.4" y="1162.8"/><use href="#m250" x="746.3" y="1162.8"/><use href="#m250" x="760.3" y="1162.8"/><use href="#m250" x="774.2" y="1162.8"/><use href="#m250" x="788.2" y="1162.8"/><use href="#m250" x="802.1" y="1162.8"/><use href="#m250" x="816.1" y="1162.8"/><use href="#m250" x="830.1" y="1162.8"/><use href="#m250" x="844" y="1162.8"/><use href="#m250" x="858" y="1162.8"/><use href="#m250" x="871.9" y="1162.8"/><use href="#m250" x="885.9" y="1162.8"/><use href="#m250" x="899.8" y="1162.8"/><use href="#m250" x="913.8" y="1162.8"/><use href="#m250" x="927.7" y="1162.8"/><use href="#m250" x="941.7" y="1162.8"/><use href="#m250" x="955.7" y="1162.8"/><use href="#m250" x="969.6" y="1162.8"/><use href="#m250" x="983.6" y="1162.8"/><use href="#m250" x="997.5" y="1162.8"/><use href="#m250" x="1011.5" y="1162.8"/><use href="#m250" x="1025.4" y="1162.8"/><use href="#m250" x="1039.4" y="1162.8"/><use href="#m250" x="1053.3" y="1162.8"/><use href="#m250" x="1067.3" y="1162.8"/><use href="#m250" x="1081.2" y="1162.8"/><use href="#m250" x="1095.2" y="1162.8"/><use href="#m250" x="1109.2" y="1162.8"/><use href="#m250" x="1123.1" y="1162.8"/><use href="#m250" x="1137.1" y="1162.8"/><use href="#m250" x="1151" y="1162.8"/><use href="#m250" x="1165" y="1162.8"/><use href="#m250" x="1178.9" y="1162.8"/><use href="#m250" x="1192.9" y="1162.8"/><use href="#m250" x="1206.8" y="1162.8"/><use href="#m250" x="1220.8" y="1162.8"/><use href="#m250" x="1234.8" y="1162.8"/><use href="#m250" x="1248.7" y="1162.8"/><use href="#m250" x="1262.7" y="1162.8"/><use href="#m250" x="1276.6" y="1162.8"/><use href="#m250" x="1290.6" y="1162.8"/><use href="#m250" x="1304.5" y="1162.8"/><use href="#m250" x="1318.5" y="1162.8"/><use href="#m250" x="1332.4" y="1162.8"/><use href="#m250" x="1346.4" y="1162.8"/><use href="#m250" x="1360.3" y="1162.8"/><use href="#m250" x="1374.3" y="1162.8"/><use href="#m250" x="1388.3" y="1162.7"/><use href="#m250" x="1402.2" y="1161.2"/><use href="#m250" x="1416.2" y="1157.9"/><use href="#m250" x="1430.1" y="1151.9"/><use href="#m250" x="1444.1" y="1143"/><use href="#m250" x="1458" y="1131.4"/><use href="#m250" x="1472" y="1118.3"/><use href="#m250" x="1485.9" y="1105.9"/><use href="#m250" x="1499.9" y="1094.4"/><use href="#m250" x="1513.9" y="1083.7"/><use href="#m250" x="1527.8" y="1073.9"/><use href="#m250" x="1541.8" y="1063.8"/><use href="#m250" x="1555.7" y="1052.3"/><use href="#m250" x="1569.7" y="1039.8"/><use href="#m250" x="1583.6" y="1026.9"/><use href="#m250" x="1597.6" y="1012.8"/><use href="#m250" x="1611.5" y="997.7"/><use href="#m250" x="1625.5" y="982.5"/><use href="#m250" x="1639.5" y="965.1"/><use href="#m250" x="1653.4" y="944.3"/><use href="#m250" x="1667.4" y="921.6"/><use href="#m250" x="1681.3" y="897.4"/><use href="#m250" x="1695.3" y="872"/><use href="#m250" x="1709.2" y="845.6"/><use href="#m250" x="1723.2" y="817.6"/><use href="#m250" x="1737.1" y="787.5"/><use href="#m250" x="1751.1" y="756.3"/><use href="#m250" x="1765" y="724.3"/><use href="#m250" x="1779" y="689.8"/><use href="#m250" x="1793" y="654"/><use href="#m250" x="1806.9" y="618.9"/><use href="#m250" x="1820.9" y="583.4"/><use href="#m250" x="1834.8" y="547.1"/><use href="#m250" x="1848.8" y="513"/><use href="#m250" x="1862.7" y="472.9"/><use href="#m250" x="1876.7" y="423.6"/><use href="#m250" x="1890.6" y="375.4"/><use href="#m250" x="1904.6" y="328"/><use href="#m250" x="1918.5" y="286.7"/></g>
<polyline points="523,1162.8 537,1162.8 551,1162.8 564.9,1162.8 578.9,1162.8 592.8,1162.8 606.8,1162.8 620.7,1162.8 634.7,1162.8 648.6,1162.8 662.6,1162.8 676.6,1162.8 690.5,1162.8 704.5,1162.8 718.4,1162.8 732.4,1162.8 746.3,1162.8 760.3,1162.8 774.2,1162.8 788.2,1162.8 802.1,1162.8 816.1,1162.8 830.1,1162.8 844,1162.8 858,1162.8 871.9,1162.8 885.9,1162.8 899.8,1162.8 913.8,1162.8 927.7,1162.8 941.7,1162.8 955.7,1162.8 969.6,1162.8 983.6,1162.8 997.5,1162.8 1011.5,1162.8 1025.4,1162.8 1039.4,1162.8 1053.3,1162.8 1067.3,1162.8 1081.2,1162.8 1095.2,1162.8 1109.2,1162.8 1123.1,1162.8 1137.1,1162.8 1151,1162.8 1165,1162.8 1178.9,1162.8 1192.9,1162.8 1206.8,1162.8 1220.8,1162.8 1234.8,1162.8 1248.7,1162.8 1262.7,1162.8 1276.6,1162.8 1290.6,1162.8 1304.5,1162.8 1318.5,1162.8 1332.4,1162.8 1346.4,1162.8 1360.3,1162.7 1374.3,1161.9 1388.3,1159.5 1402.2,1153.3 1416.2,1143.8 1430.1,1132.1 1444.1,1120.3 1458,1109.6 1472,1099.8 1485.9,1090.9 1499.9,1081.7 1513.9,1071.8 1527.8,1061.1 1541.8,1049.9 1555.7,1038.8 1569.7,1026 1583.6,1010.5 1597.6,994.1 1611.5,977.3 1625.5,958.6 1639.5,938.1 1653.4,916.6 1667.4,894.3 1681.3,870.7 1695.3,844.9 1709.2,818.1 1723.2,790 1737.1,760.2 1751.1,730 1765,699.1 1779,669.4 1793,628.2 1806.9,591.4 1820.9,550.2 1834.8,510.2 1848.8,470.3 1862.7,428 1876.7,390.2 1890.6,353.2 1904.6,310 1918.5,287.1" fill="none" stroke="#00ffff" stroke-width="5"/>
<g><use href="#m280" x="523" y="1162.8"/><use href="#m280" x="537" y="1162.8"/><use href="#m280" x="551" y="1162.8"/><use href="#m280" x="564.9" y="1162.8"/><use href="#m280" x="578.9" y="1162.8"/><use href="#m280" x="592.8" y="1162.8"/><use href="#m280" x="606.8" y="1162.8"/><use href="#m280" x="620.7" y="1162.8"/><use href="#m280" x="634.7" y="1162.8"/><use href="#m280" x="648.6" y="1162.8"/><use href="#m280" x="662.6" y="1162.8"/><use href="#m280" x="676.6" y="1162.8"/><use href="#m280" x="690.5" y="1162.8"/><use href="#m280" x="704.5" y="1162.8"/><use href="#m280" x="718.4" y="1162.8"/><use href="#m280" x="732.4" y="1162.8"/><use href="#m280" x="746.3" y="1162.8"/><use href="#m280" x="760.3" y="1162.8"/><use href="#m280" x="774.2" y="1162.8"/><use href="#m280" x="788.2" y="1162.8"/><use href="#m280" x="802.1" y="1162.8"/><use href="#m280" x="816.1" y="1162.8"/><use href="#m280" x="830.1" y="1162.8"/><use href="#m280" x="844" y="1162.8"/><use href="#m280" x="858" y="1162.8"/><use href="#m280" x="871.9" y="1162.8"/><use href="#m280" x="885.9" y="1162.8"/><use href="#m280" x="899.8" y="1162.8"/><use href="#m280" x="913.8" y="1162.8"/><use href="#m280" x="927.7" y="1162.8"/><use href="#m280" x="941.7" y="1162.8"/><use href="#m280" x="955.7" y="1162.8"/><use href="#m280" x="969.6" y="1162.8"/><use href="#m280" x="983.6" y="1162.8"/><use href="#m280" x="997.5" y="1162.8"/><use href="#m280" x="1011.5" y="1162.8"/><use href="#m280" x="1025.4" y="1162.8"/><use href="#m280" x="1039.4" y="1162.8"/><use href="#m280" x="1053.3" y="1162.8"/><use href="#m280" x="1067.3" y="1162.8"/><use href="#m280" x="1081.2" y="1162.8"/><use href="#m280" x="1095.2" y="1162.8"/><use href="#m280" x="1109.2" y="1162.8"/><use href="#m280" x="1123.1" y="1162.8"/><use href="#m280" x="1137.1" y="1162.8"/><use href="#m280" x="1151" y="1162.8"/><use href="#m280" x="1165" y="1162.8"/><use href="#m280" x="1178.9" y="1162.8"/><use href="#m280" x="1192.9" y="1162.8"/><use href="#m280" x="1206.8" y="1162.8"/><use href="#m280" x="1220.8" y="1162.8"/><use href="#m280" x="1234.8" y="1162.8"/><use href="#m280" x="1248.7" y="1162.8"/><use href="#m280" x="1262.7" y="1162.8"/><use href="#m280" x="1276.6" y="1162.8"/><use href="#m280" x="1290.6" y="1162.8"/><use href="#m280" x="1304.5" y="1162.8"/><use href="#m280" x="1318.5" y="1162.8"/><use href="#m280" x="1332.4" y="1162.8"/><use href="#m280" x="1346.4" y="1162.8"/><use href="#m280" x="1360.3" y="1162.7"/><use href="#m280" x="1374.3" y="1161.9"/><use href="#m280" x="1388.3" y="1159.5"/><use href="#m280" x="1402.2" y="1153.3"/><use href="#m280" x="1416.2" y="1143.8"/><use href="#m280" x="1430.1" y="1132.1"/><use href="#m280" x="1444.1" y="1120.3"/><use href="#m280" x="1458" y="1109.6"/><use href="#m280" x="1472" y="1099.8"/><use href="#m280" x="1485.9" y="1090.9"/><use href="#m280" x="1499.9" y="1081.7"/><use href="#m280" x="1513.9" y="1071.8"/><use href="#m280" x="1527.8" y="1061.1"/><use href="#m280" x="1541.8" y="1049.9"/><use href="#m280" x="1555.7" y="1038.8"/><use href="#m280" x="1569.7" y="1026"/><use href="#m280" x="1583.6" y="1010.5"/><use href="#m280" x="1597.6" y="994.1"/><use href="#m280" x="1611.5" y="977.3"/><use href="#m280" x="1625.5" y="958.6"/><use href="#m280" x="1639.5" y="938.1"/><use href="#m280" x="1653.4" y="916.6"/><use href="#m280" x="1667.4" y="894.3"/><use href="#m280" x="1681.3" y="870.7"/><use href="#m280" x="1695.3" y="844.9"/><use href="#m280" x="1709.2" y="818.1"/><use href="#m280" x="1723.2" y="790"/><use href="#m280" x="1737.1" y="760.2"/><use href="#m280" x="1751.1" y="730"/><use href="#m280" x="1765" y="699.1"/><use href="#m280" x="1779" y="669.4"/><use href="#m280" x="1793" y="628.2"/><use href="#m280" x="1806.9" y="591.4"/><use href="#m280" x="1820.9" y="550.2"/><use href="#m280" x="1834.8" y="510.2"/><use href="#m280" x="1848.8" y="470.3"/><use href="#m280" x="1862.7" y="428"/><use href="#m280" x="1876.7" y="390.2"/><use href="#m280" x="1890.6" y="353.2"/><use href="#m280" x="1904.6" y="310"/><use href="#m280" x="1918.5" y="287.1"/></g>
<polyline points="523,1162.8 537,1162.8 551,1162.8 564.9,1162.8 578.9,1162.8 592.8,1162.8 606.8,1162.8 620.7,1162.8 634.7,1162.8 648.6,1162.8 662.6,1162.8 676.6,1162.8 690.5,1162.8 704.5,1162.8 718.4,1162.8 732.4,1162.8 746.3,1162.8 760.3,1162.8 774.2,1162.8 788.2,1162.8 802.1,1162.8 816.1,1162.8 830.1,1162.8 844,1162.8 858,1162.8 871.9,1162.8 885.9,1162.8 899.8,1162.8 913.8,1162.8 927.7,1162.8 941.7,1162.8 955.7,1162.8 969.6,1162.8 983.6,1162.8 997.5,1162.8 1011.5,1162.8 1025.4,1162.8 1039.4,1162.8 1053.3,1162.8 1067.3,1162.8 1081.2,1162.8 1095.2,1162.8 1109.2,1162.8 1123.1,1162.8 1137.1,1162.8 1151,1162.8 1165,1162.8 1178.9,1162.8 1192.9,1162.8 1206.8,1162.8 1220.8,1162.8 1234.8,1162.8 1248.7,1162.8 1262.7,1162.8 1276.6,1162.8 1290.6,1162.8 1304.5,1162.7 1318.5,1162.5 1332.4,1162 1346.4,1160.5 1360.3,1157.2 1374.3,1152 1388.3,1145 1402.2,1135 1416.2,1122.7 1430.1,1111 1444.1,1100.8 1458,1090.7 1472,1079.8 1485.9,1068.9 1499.9,1057.3 1513.9,1044.4 1527.8,1030.8 1541.8,1016.2 1555.7,1000.5 1569.7,986.5 1583.6,970.3 1597.6,949.9 1611.5,928.7 1625.5,907.1 1639.5,884.4 1653.4,861.5 1667.4,836.8 1681.3,811.5 1695.3,787.5 1709.2,762.8 1723.2,737.3 1737.1,711.7 1751.1,687.1 1765,658.9 1779,632.1 1793,603.7 1806.9,574.3 1820.9,544.3 1834.8,503.1 1848.8,465.8 1862.7,427 1876.7,390.3 1890.6,359.3 1904.6,328.5 1918.5,298.4" fill="none" stroke="#8000ff" stroke-width="5"/>
<g><use href="#m310" x="523" y="1162.8"/><use href="#m310" x="537" y="1162.8"/><use href="#m310" x="551" y="1162.8"/><use href="#m310" x="564.9" y="1162.8"/><use href="#m310" x="578.9" y="1162.8"/><use href="#m310" x="592.8" y="1162.8"/><use href="#m310" x="606.8" y="1162.8"/><use href="#m310" x="620.7" y="1162.8"/><use href="#m310" x="634.7" y="1162.8"/><use href="#m310" x="648.6" y="1162.8"/><use href="#m310" x="662.6" y="1162.8"/><use href="#m310" x="676.6" y="1162.8"/><use href="#m310" x="690.5" y="1162.8"/><use href="#m310" x="704.5" y="1162.8"/><use href="#m310" x="718.4" y="1162.8"/><use href="#m310" x="732.4" y="1162.8"/><use href="#m310" x="746.3" y="1162.8"/><use href="#m310" x="760.3" y="1162.8"/><use href="#m310" x="774.2" y="1162.8"/><use href="#m310" x="788.2" y="1162.8"/><use href="#m310" x="802.1" y="1162.8"/><use href="#m310" x="816.1" y="1162.8"/><use href="#m310" x="830.1" y="1162.8"/><use href="#m310" x="844" y="1162.8"/><use href="#m310" x="858" y="1162.8"/><use href="#m310" x="871.9" y="1162.8"/><use href="#m310" x="885.9" y="1162.8"/><use href="#m310" x="899.8" y="1162.8"/><use href="#m310" x="913.8" y="1162.8"/><use href="#m310" x="927.7" y="1162.8"/><use href="#m310" x="941.7" y="1162.8"/><use href="#m310" x="955.7" y="1162.8"/><use href="#m310" x="969.6" y="1162.8"/><use href="#m310" x="983.6" y="1162.8"/><use href="#m310" x="997.5" y="1162.8"/><use href="#m310" x="1011.5" y="1162.8"/><use href="#m310" x="1025.4" y="1162.8"/><use href="#m310" x="1039.4" y="1162.8"/><use href="#m310" x="1053.3" y="1162.8"/><use href="#m310" x="1067.3" y="1162.8"/><use href="#m310" x="1081.2" y="1162.8"/><use href="#m310" x="1095.2" y="1162.8"/><use href="#m310" x="1109.2" y="1162.8"/><use href="#m310" x="1123.1" y="1162.8"/><use href="#m310" x="1137.1" y="1162.8"/><use href="#m310" x="1151" y="1162.8"/><use href="#m310" x="1165" y="1162.8"/><use href="#m310" x="1178.9" y="1162.8"/><use href="#m310" x="1192.9" y="1162.8"/><use href="#m310" x="1206.8" y="1162.8"/><use href="#m310" x="1220.8" y="1162.8"/><use href="#m310" x="1234.8" y="1162.8"/><use href="#m310" x="1248.7" y="1162.8"/><use href="#m310" x="1262.7" y="1162.8"/><use href="#m310" x="1276.6" y="1162.8"/><use href="#m310" x="1290.6" y="1162.8"/><use href="#m310" x="1304.5" y="1162.7"/><use href="#m310" x="1318.5" y="1162.5"/><use href="#m310" x="1332.4" y="1162"/><use href="#m310" x="1346.4" y="1160.5"/><use href="#m310" x="1360.3" y="1157.2"/><use href="#m310" x="1374.3" y="1152"/><use href="#m310" x="1388.3" y="1145"/><use href="#m310" x="1402.2" y="1135"/><use href="#m310" x="1416.2" y="1122.7"/><use href="#m310" x="1430.1" y="1111"/><use href="#m310" x="1444.1" y="1100.8"/><use href="#m310" x="1458" y="1090.7"/><use href="#m310" x="1472" y="1079.8"/><use href="#m310" x="1485.9" y="1068.9"/><use href="#m310" x="1499.9" y="1057.3"/><use href="#m310" x="1513.9" y="1044.4"/><use href="#m310" x="1527.8" y="1030.8"/><use href="#m310" x="1541.8" y="1016.2"/><use href="#m310" x="1555.7" y="1000.5"/><use href="#m310" x="1569.7" y="986.5"/><use href="#m310" x="1583.6" y="970.3"/><use href="#m310" x="1597.6" y="949.9"/><use href="#m310" x="1611.5" y="928.7"/><use href="#m310" x="1625.5" y="907.1"/><use href="#m310" x="1639.5" y="884.4"/><use href="#m310" x="1653.4" y="861.5"/><use href="#m310" x="1667.4" y="836.8"/><use href="#m310" x="1681.3" y="811.5"/><use href="#m310" x="1695.3" y="787.5"/><use href="#m310" x="1709.2" y="762.8"/><use href="#m310" x="1723.2" y="737.3"/><use href="#m310" x="1737.1" y="711.7"/><use href="#m310" x="1751.1" y="687.1"/><use href="#m310" x="1765" y="658.9"/><use href="#m310" x="1779" y="632.1"/><use href="#m310" x="1793" y="603.7"/><use href="#m310" x="1806.9" y="574.3"/><use href="#m310" x="1820.9" y="544.3"/><use href="#m310" x="1834.8" y="503.1"/><use href="#m310" x="1848.8" y="465.8"/><use href="#m310" x="1862.7" y="427"/><use href="#m310" x="1876.7" y="390.3"/><use href="#m310" x="1890.6" y="359.3"/><use href="#m310" x="1904.6" y="328.5"/><use href="#m310" x="1918.5" y="298.4"/></g>
</g>
<text transform="translate(484.5 1009.6) scale(1 1.04)" font-size="64" font-weight="bold" text-anchor="end">1.0x10<tspan font-size="37" dy="-35.6">-6</tspan></text>
<text transform="translate(484.5 833.4) scale(1 1.04)" font-size="64" font-weight="bold" text-anchor="end">2.0x10<tspan font-size="37" dy="-35.6">-6</tspan></text>
<text transform="translate(484.5 657.2) scale(1 1.04)" font-size="64" font-weight="bold" text-anchor="end">3.0x10<tspan font-size="37" dy="-35.6">-6</tspan></text>
<text transform="translate(484.5 481) scale(1 1.04)" font-size="64" font-weight="bold" text-anchor="end">4.0x10<tspan font-size="37" dy="-35.6">-6</tspan></text>
<text transform="translate(484.5 304.8) scale(1 1.04)" font-size="64" font-weight="bold" text-anchor="end">5.0x10<tspan font-size="37" dy="-35.6">-6</tspan></text>
<text transform="translate(484.5 128.6) scale(1 1.04)" font-size="64" font-weight="bold" text-anchor="end">6.0x10<tspan font-size="37" dy="-35.6">-6</tspan></text>
<text transform="translate(482 1185.8) scale(1 1.04)" font-size="64" font-weight="bold" text-anchor="end">0.0</text>
<text transform="translate(662.6 1324.5) scale(1 1.04)" font-size="64" font-weight="bold" text-anchor="middle">-4</text>
<text transform="translate(941.7 1324.5) scale(1 1.04)" font-size="64" font-weight="bold" text-anchor="middle">-2</text>
<text transform="translate(1220.8 1324.5) scale(1 1.04)" font-size="64" font-weight="bold" text-anchor="middle">0</text>
<text transform="translate(1499.9 1324.5) scale(1 1.04)" font-size="64" font-weight="bold" text-anchor="middle">2</text>
<text transform="translate(1779 1324.5) scale(1 1.04)" font-size="64" font-weight="bold" text-anchor="middle">4</text>
<text x="42" y="145.5" font-size="130" letter-spacing="1.2">(a)</text>
<text x="42" y="1576.5" font-size="130" letter-spacing="1.2">(b)</text>
<text transform="translate(187.5 711.3) rotate(-90) scale(1 1.03)" font-size="92" font-weight="bold">I<tspan font-size="57" dy="43.2">ds</tspan></text>
<text transform="translate(187.5 596.5) rotate(-90) scale(1 1.03)" font-size="92" font-weight="bold">(A)</text>
<text transform="translate(1064.6 1437.7) scale(1 1.03)" font-size="110" font-weight="bold">V<tspan font-size="64" dy="41.7">gs</tspan></text>
<text transform="translate(1230.5 1437.7) scale(1 1.03)" font-size="110" font-weight="bold">(V)</text>
<path d="M546.6 844.2H697" stroke="#000000" stroke-width="5.6"/>
<use href="#m130" x="621.8" y="844.2"/>
<text transform="translate(714.5 865.2) scale(1 1.04)" font-size="62" font-weight="bold">130 K</text>
<path d="M897 844.2H1047.5" stroke="#ff0000" stroke-width="5.6"/>
<use href="#m160" x="972.2" y="844.2"/>
<text transform="translate(1064.5 865.2) scale(1 1.04)" font-size="62" font-weight="bold">160 K</text>
<path d="M546.6 924.2H697" stroke="#00ff00" stroke-width="5.6"/>
<use href="#m190" x="621.8" y="924.2"/>
<text transform="translate(714.5 945.2) scale(1 1.04)" font-size="62" font-weight="bold">190 K</text>
<path d="M897 924.2H1047.5" stroke="#0000ff" stroke-width="5.6"/>
<use href="#m220" x="972.2" y="924.2"/>
<text transform="translate(1064.5 945.2) scale(1 1.04)" font-size="62" font-weight="bold">220 K</text>
<path d="M546.6 1004.2H697" stroke="#ff00ff" stroke-width="5.6"/>
<use href="#m250" x="621.8" y="1004.2"/>
<text transform="translate(714.5 1025.2) scale(1 1.04)" font-size="62" font-weight="bold">250 K</text>
<path d="M897 1004.2H1047.5" stroke="#00ffff" stroke-width="5.6"/>
<use href="#m280" x="972.2" y="1004.2"/>
<text transform="translate(1064.5 1025.2) scale(1 1.04)" font-size="62" font-weight="bold">280 K</text>
<path d="M546.6 1084.4H697" stroke="#8000ff" stroke-width="5.6"/>
<use href="#m310" x="621.8" y="1084.4"/>
<text transform="translate(714.5 1105.4) scale(1 1.04)" font-size="62" font-weight="bold">310 K</text>
<rect x="738.6" y="164.6" width="608" height="514.4" fill="#fff"/>
<path d="M808.5 325.7L860.7 331.6 M885.3 320.9L949.9 233.7 M973.3 227.6L1028.1 252.2 M1057.6 260.3L1109.8 266.2 M1130.6 282.5L1202.9 477.6 M1216.2 505.4L1283.4 618.9" fill="none" stroke="#800080" stroke-width="4.2"/>
<circle cx="793.1" cy="324" r="12" fill="url(#ball)"/>
<circle cx="876.1" cy="333.3" r="12" fill="url(#ball)"/>
<circle cx="959.2" cy="221.2" r="12" fill="url(#ball)"/>
<circle cx="1042.2" cy="258.6" r="12" fill="url(#ball)"/>
<circle cx="1125.2" cy="267.9" r="12" fill="url(#ball)"/>
<circle cx="1208.3" cy="492.1" r="12" fill="url(#ball)"/>
<circle cx="1291.3" cy="632.2" r="12" fill="url(#ball)"/>
<path d="M765.4 679v-11.5 M765.4 164.6v11.5 M876.1 679v-11.5 M876.1 164.6v11.5 M986.8 679v-11.5 M986.8 164.6v11.5 M1097.6 679v-11.5 M1097.6 164.6v11.5 M1208.3 679v-11.5 M1208.3 164.6v11.5 M1319 679v-11.5 M1319 164.6v11.5 M820.8 679v-7 M820.8 164.6v7 M931.5 679v-7 M931.5 164.6v7 M1042.2 679v-7 M1042.2 164.6v7 M1152.9 679v-7 M1152.9 164.6v7 M1263.6 679v-7 M1263.6 164.6v7 M738.6 632.2h11.5 M1346.6 632.2h-11.5 M738.6 538.8h11.5 M1346.6 538.8h-11.5 M738.6 445.4h11.5 M1346.6 445.4h-11.5 M738.6 352h11.5 M1346.6 352h-11.5 M738.6 258.6h11.5 M1346.6 258.6h-11.5 M738.6 585.5h7 M1346.6 585.5h-7 M738.6 492.1h7 M1346.6 492.1h-7 M738.6 398.7h7 M1346.6 398.7h-7 M738.6 305.3h7 M1346.6 305.3h-7 M738.6 211.9h7 M1346.6 211.9h-7" stroke="#000" stroke-width="4.2" fill="none" stroke-linecap="butt"/>
<rect x="738.6" y="164.6" width="608" height="514.4" fill="none" stroke="#000" stroke-width="4.8"/>
<text transform="translate(727.5 640.7) scale(1 1.04)" font-size="32" font-weight="bold" text-anchor="end">1.0</text>
<text transform="translate(727.5 547.3) scale(1 1.04)" font-size="32" font-weight="bold" text-anchor="end">1.1</text>
<text transform="translate(727.5 453.9) scale(1 1.04)" font-size="32" font-weight="bold" text-anchor="end">1.2</text>
<text transform="translate(727.5 360.5) scale(1 1.04)" font-size="32" font-weight="bold" text-anchor="end">1.3</text>
<text transform="translate(727.5 267.1) scale(1 1.04)" font-size="32" font-weight="bold" text-anchor="end">1.4</text>
<text transform="translate(727.5 173.7) scale(1 1.04)" font-size="32" font-weight="bold" text-anchor="end">1.5</text>
<text transform="translate(765.4 716) scale(1 1.04)" font-size="31" font-weight="bold" text-anchor="middle">120</text>
<text transform="translate(876.1 716) scale(1 1.04)" font-size="31" font-weight="bold" text-anchor="middle">160</text>
<text transform="translate(986.8 716) scale(1 1.04)" font-size="31" font-weight="bold" text-anchor="middle">200</text>
<text transform="translate(1097.6 716) scale(1 1.04)" font-size="31" font-weight="bold" text-anchor="middle">240</text>
<text transform="translate(1208.3 716) scale(1 1.04)" font-size="31" font-weight="bold" text-anchor="middle">280</text>
<text transform="translate(1319 716) scale(1 1.04)" font-size="31" font-weight="bold" text-anchor="middle">320</text>
<text transform="translate(980 788.3) scale(1 1.03)" font-size="57" font-weight="bold" word-spacing="-4">T (K)</text>
<text transform="translate(648.6 482) rotate(-90) scale(1 1.03)" font-size="58" font-weight="bold">V<tspan font-size="35" dy="22">th</tspan></text>
<text transform="translate(648.6 392) rotate(-90) scale(1 1.03)" font-size="58" font-weight="bold">(V)</text>
<g clip-path="url(#cb)" fill="none" stroke-width="3.9" stroke-linejoin="miter" stroke-miterlimit="4">
<polyline points="523.8,2663.3 537.8,2663.3 551.7,2663.3 565.7,2663.3 579.6,2663.3 593.6,2663.3 607.6,2663.3 621.5,2663.3 635.5,2663.3 649.4,2663.3 663.4,2663.3 677.4,2663.3 691.3,2663.3 705.3,2663.3 719.2,2663.3 733.2,2663.3 747.2,2663.3 761.1,2663.3 775.1,2663.3 789,2663.3 803,2663.3 817,2663.3 830.9,2663.3 844.9,2663.3 858.8,2663.3 872.8,2663.3 886.8,2663.3 900.7,2663.3 914.7,2663.3 928.6,2663.3 942.6,2663.3 956.6,2663.3 970.5,2663.3 984.5,2663.3 998.4,2663.3 1012.4,2663.3 1026.4,2663.3 1040.3,2663.3 1054.3,2663.3 1068.2,2663.3 1082.2,2663.3 1096.2,2663.3 1110.1,2663.3 1124.1,2663.3 1138,2663.3 1152,2663.3 1166,2663.3 1179.9,2663.3 1193.9,2663.3 1207.8,2663.3 1221.8,2663.3 1235.8,2663.3 1249.7,2663.3 1263.7,2663.3 1277.6,2663.3 1291.6,2663.3 1305.6,2663.3 1319.5,2663.3 1333.5,2663.3 1347.4,2663.3 1361.4,2663.3 1375.4,2662.3 1389.3,2659 1403.3,2637.6 1417.2,2567.2 1431.2,2481.4 1445.2,2450.9 1459.1,2457.4 1473.1,2478.3 1487,2460.8 1501,2463.6 1515,2463.6 1528.9,2463.6 1542.9,2449.8 1556.8,2415.9 1570.8,2414.1 1584.8,2394.2 1598.7,2364.7 1612.7,2318.4 1626.6,2302.9 1640.6,2273.4 1654.6,2242.5 1668.5,2210.3 1682.5,2176 1696.4,2142.7 1710.4,2084.7 1724.4,2212.3 1738.3,1947 1752.3,1922 1766.2,1922 1780.2,1889 1794.2,1844.1 1808.1,1884.2 1822.1,1814.9 1836,1823.8 1850,1785.7 1864,1814.9 1877.9,1791.6 1891.9,1767.5 1905.8,1894.5 1919.8,1704.4" stroke="#000000"/>
<polyline points="523.8,2663.3 537.8,2663.3 551.7,2663.3 565.7,2663.3 579.6,2663.3 593.6,2663.3 607.6,2663.3 621.5,2663.3 635.5,2663.3 649.4,2663.3 663.4,2663.3 677.4,2663.3 691.3,2663.3 705.3,2663.3 719.2,2663.3 733.2,2663.3 747.2,2663.3 761.1,2663.3 775.1,2663.3 789,2663.3 803,2663.3 817,2663.3 830.9,2663.3 844.9,2663.3 858.8,2663.3 872.8,2663.3 886.8,2663.3 900.7,2663.3 914.7,2663.3 928.6,2663.3 942.6,2663.3 956.6,2663.3 970.5,2663.3 984.5,2663.3 998.4,2663.3 1012.4,2663.3 1026.4,2663.3 1040.3,2663.3 1054.3,2663.3 1068.2,2663.3 1082.2,2663.3 1096.2,2663.3 1110.1,2663.3 1124.1,2663.3 1138,2663.3 1152,2663.3 1166,2663.3 1179.9,2663.3 1193.9,2663.3 1207.8,2663.3 1221.8,2663.3 1235.8,2663.3 1249.7,2663.3 1263.7,2663.3 1277.6,2663.3 1291.6,2663.3 1305.6,2663.3 1319.5,2663.3 1333.5,2663.3 1347.4,2663.3 1361.4,2663.3 1375.4,2662.3 1389.3,2659 1403.3,2639.3 1417.2,2570.3 1431.2,2483.1 1445.2,2457.4 1459.1,2452.2 1473.1,2475.2 1487,2457.4 1501,2472.8 1515,2466.3 1528.9,2476.3 1542.9,2452.9 1556.8,2434.4 1570.8,2416.2 1584.8,2399 1598.7,2372.3 1612.7,2359.9 1626.6,2320.1 1640.6,2290.2 1654.6,2248.7 1668.5,2247 1682.5,2302.9 1696.4,2121 1710.4,2063 1724.4,2054.8 1738.3,2034.9 1752.3,1995.1 1766.2,1975.2 1780.2,1938.8 1794.2,1905.5 1808.1,1892.1 1822.1,1891.1 1836,1856.8 1850,1819.4 1864,1836.2 1877.9,1828.6 1891.9,1938.8 1905.8,1573 1919.8,1736.7" stroke="#ff0000"/>
<polyline points="523.8,2663.3 537.8,2663.3 551.7,2663.3 565.7,2663.3 579.6,2663.3 593.6,2663.3 607.6,2663.3 621.5,2663.3 635.5,2663.3 649.4,2663.3 663.4,2663.3 677.4,2663.3 691.3,2663.3 705.3,2663.3 719.2,2663.3 733.2,2663.3 747.2,2663.3 761.1,2663.3 775.1,2663.3 789,2663.3 803,2663.3 817,2663.3 830.9,2663.3 844.9,2663.3 858.8,2663.3 872.8,2663.3 886.8,2663.3 900.7,2663.3 914.7,2663.3 928.6,2663.3 942.6,2663.3 956.6,2663.3 970.5,2663.3 984.5,2663.3 998.4,2663.3 1012.4,2663.3 1026.4,2663.3 1040.3,2663.3 1054.3,2663.3 1068.2,2663.3 1082.2,2663.3 1096.2,2663.3 1110.1,2663.3 1124.1,2663.3 1138,2663.3 1152,2663.3 1166,2663.3 1179.9,2663.3 1193.9,2663.3 1207.8,2663.3 1221.8,2663.3 1235.8,2663.3 1249.7,2663.3 1263.7,2663.3 1277.6,2663.3 1291.6,2663.3 1305.6,2663.3 1319.5,2663.3 1333.5,2663.3 1347.4,2663.3 1361.4,2663.3 1375.4,2663.3 1389.3,2661.9 1403.3,2656.4 1417.2,2632.8 1431.2,2579.2 1445.2,2499.9 1459.1,2464.2 1473.1,2447.1 1487,2399 1501,2460.1 1515,2471.8 1528.9,2466.6 1542.9,2443.7 1556.8,2434.4 1570.8,2423.1 1584.8,2402.5 1598.7,2372.3 1612.7,2359.9 1626.6,2325.9 1640.6,2296.4 1654.6,2272.1 1668.5,2341.4 1682.5,2142.7 1696.4,2124.5 1710.4,2124.5 1724.4,2078.1 1738.3,2046.6 1752.3,2018.1 1766.2,1988.6 1780.2,1951.8 1794.2,1937.1 1808.1,1927.1 1822.1,1890.8 1836,1859.2 1850,1848.2 1864,1891.1 1877.9,1971.8 1891.9,1591.5 1905.8,1645.7 1919.8,1819" stroke="#00ff00"/>
<polyline points="523.8,2663.3 537.8,2663.3 551.7,2663.3 565.7,2663.3 579.6,2663.3 593.6,2663.3 607.6,2663.3 621.5,2663.3 635.5,2663.3 649.4,2663.3 663.4,2663.3 677.4,2663.3 691.3,2663.3 705.3,2663.3 719.2,2663.3 733.2,2663.3 747.2,2663.3 761.1,2663.3 775.1,2663.3 789,2663.3 803,2663.3 817,2663.3 830.9,2663.3 844.9,2663.3 858.8,2663.3 872.8,2663.3 886.8,2663.3 900.7,2663.3 914.7,2663.3 928.6,2663.3 942.6,2663.3 956.6,2663.3 970.5,2663.3 984.5,2663.3 998.4,2663.3 1012.4,2663.3 1026.4,2663.3 1040.3,2663.3 1054.3,2663.3 1068.2,2663.3 1082.2,2663.3 1096.2,2663.3 1110.1,2663.3 1124.1,2663.3 1138,2663.3 1152,2663.3 1166,2663.3 1179.9,2663.3 1193.9,2663.3 1207.8,2663.3 1221.8,2663.3 1235.8,2663.3 1249.7,2663.3 1263.7,2663.3 1277.6,2663.3 1291.6,2663.3 1305.6,2663.3 1319.5,2663.3 1333.5,2663.3 1347.4,2663.3 1361.4,2663.3 1375.4,2662.6 1389.3,2659.2 1403.3,2635.8 1417.2,2587.8 1431.2,2531.2 1445.2,2495.1 1459.1,2464.6 1473.1,2406.6 1487,2435.4 1501,2464.6 1515,2467.7 1528.9,2468.4 1542.9,2453.9 1556.8,2441.9 1570.8,2426.5 1584.8,2403.5 1598.7,2374 1612.7,2364.7 1626.6,2325.9 1640.6,2298.1 1654.6,2347.6 1668.5,2233.3 1682.5,2179 1696.4,2139.2 1710.4,2127.9 1724.4,2098 1738.3,2059.6 1752.3,2029.8 1766.2,2006.8 1780.2,1981.7 1794.2,1953.6 1808.1,1950.5 1822.1,1918.9 1836,1882.2 1850,1898 1864,1877.4 1877.9,2058.2 1891.9,1635.8 1905.8,1646.4 1919.8,1819.4" stroke="#0000ff"/>
<polyline points="523.8,2663.3 537.8,2663.3 551.7,2663.3 565.7,2663.3 579.6,2663.3 593.6,2663.3 607.6,2663.3 621.5,2663.3 635.5,2663.3 649.4,2663.3 663.4,2663.3 677.4,2663.3 691.3,2663.3 705.3,2663.3 719.2,2663.3 733.2,2663.3 747.2,2663.3 761.1,2663.3 775.1,2663.3 789,2663.3 803,2663.3 817,2663.3 830.9,2663.3 844.9,2663.3 858.8,2663.3 872.8,2663.3 886.8,2663.3 900.7,2663.3 914.7,2663.3 928.6,2663.3 942.6,2663.3 956.6,2663.3 970.5,2663.3 984.5,2663.3 998.4,2663.3 1012.4,2663.3 1026.4,2663.3 1040.3,2663.3 1054.3,2663.3 1068.2,2663.3 1082.2,2663.3 1096.2,2663.3 1110.1,2663.3 1124.1,2663.3 1138,2663.3 1152,2663.3 1166,2663.3 1179.9,2663.3 1193.9,2663.3 1207.8,2663.3 1221.8,2663.3 1235.8,2663.3 1249.7,2663.3 1263.7,2663.3 1277.6,2663.3 1291.6,2663.3 1305.6,2663.3 1319.5,2663.3 1333.5,2663.3 1347.4,2663.3 1361.4,2663.3 1375.4,2662.6 1389.3,2660.6 1403.3,2639.3 1417.2,2591.6 1431.2,2534.9 1445.2,2483.1 1459.1,2428.6 1473.1,2428.6 1487,2428.6 1501,2460.8 1515,2459.1 1528.9,2491.7 1542.9,2452.9 1556.8,2434.4 1570.8,2418.9 1584.8,2414.1 1598.7,2378.4 1612.7,2370.9 1626.6,2378.4 1640.6,2287.2 1654.6,2248.7 1668.5,2214.7 1682.5,2191.4 1696.4,2168.1 1710.4,2154.3 1724.4,2108 1738.3,2071.3 1752.3,2068.2 1766.2,2041.4 1780.2,1973.5 1794.2,1990.3 1808.1,1957 1822.1,1971.8 1836,1929.5 1850,2053.1 1864,1695.5 1877.9,1692.4 1891.9,1740.1 1905.8,1721.6 1919.8,1981.7" stroke="#ff00ff"/>
<polyline points="523.8,2663.3 537.8,2663.3 551.7,2663.3 565.7,2663.3 579.6,2663.3 593.6,2663.3 607.6,2663.3 621.5,2663.3 635.5,2663.3 649.4,2663.3 663.4,2663.3 677.4,2663.3 691.3,2663.3 705.3,2663.3 719.2,2663.3 733.2,2663.3 747.2,2663.3 761.1,2663.3 775.1,2663.3 789,2663.3 803,2663.3 817,2663.3 830.9,2663.3 844.9,2663.3 858.8,2663.3 872.8,2663.3 886.8,2663.3 900.7,2663.3 914.7,2663.3 928.6,2663.3 942.6,2663.3 956.6,2663.3 970.5,2663.3 984.5,2663.3 998.4,2663.3 1012.4,2663.3 1026.4,2663.3 1040.3,2663.3 1054.3,2663.3 1068.2,2663.3 1082.2,2663.3 1096.2,2663.3 1110.1,2663.3 1124.1,2663.3 1138,2663.3 1152,2663.3 1166,2663.3 1179.9,2663.3 1193.9,2663.3 1207.8,2663.3 1221.8,2663.3 1235.8,2663.3 1249.7,2663.3 1263.7,2663.3 1277.6,2663.3 1291.6,2663.3 1305.6,2663.3 1319.5,2663.3 1333.5,2663.3 1347.4,2662.6 1361.4,2659 1375.4,2640.6 1389.3,2593.3 1403.3,2516.8 1417.2,2467.7 1431.2,2436.4 1445.2,2461.5 1459.1,2476.9 1473.1,2495.1 1487,2495.1 1501,2481.4 1515,2466.6 1528.9,2452.9 1542.9,2448.1 1556.8,2456 1570.8,2383.2 1584.8,2356.8 1598.7,2346.2 1612.7,2340.7 1626.6,2273.4 1640.6,2273.4 1654.6,2236.4 1668.5,2240.8 1682.5,2186.6 1696.4,2158.8 1710.4,2150.9 1724.4,2104.6 1738.3,2089.8 1752.3,2085 1766.2,2068.5 1780.2,2135.8 1794.2,1833.1 1808.1,1845.5 1822.1,1873.9 1836,1856.8 1850,1887.3 1864,1872.2 1877.9,1887.3 1891.9,1927.1 1905.8,1893.8 1919.8,2227.1" stroke="#00ffff"/>
<polyline points="523.8,2663.3 537.8,2663.3 551.7,2663.3 565.7,2663.3 579.6,2663.3 593.6,2663.3 607.6,2663.3 621.5,2663.3 635.5,2663.3 649.4,2663.3 663.4,2663.3 677.4,2663.3 691.3,2663.3 705.3,2663.3 719.2,2663.3 733.2,2663.3 747.2,2663.3 761.1,2663.3 775.1,2663.3 789,2663.3 803,2663.3 817,2663.3 830.9,2663.3 844.9,2663.3 858.8,2663.3 872.8,2663.3 886.8,2663.3 900.7,2663.3 914.7,2663.3 928.6,2663.3 942.6,2663.3 956.6,2663.3 970.5,2663.3 984.5,2663.3 998.4,2663.3 1012.4,2663.3 1026.4,2663.3 1040.3,2663.3 1054.3,2663.3 1068.2,2663.3 1082.2,2663.3 1096.2,2663.3 1110.1,2663.3 1124.1,2663.3 1138,2663.3 1152,2663.3 1166,2663.3 1179.9,2663.3 1193.9,2663.3 1207.8,2663.3 1221.8,2663.3 1235.8,2663.3 1249.7,2663.3 1263.7,2663.3 1277.6,2663.3 1291.6,2662.6 1305.6,2661.6 1319.5,2657.8 1333.5,2647.9 1347.4,2621.8 1361.4,2582.6 1375.4,2551.8 1389.3,2513.7 1403.3,2440.9 1417.2,2427.9 1431.2,2461.5 1445.2,2485.2 1459.1,2466.3 1473.1,2455.3 1487,2463.2 1501,2431.6 1515,2417.2 1528.9,2400.4 1542.9,2383.2 1556.8,2359.2 1570.8,2446.7 1584.8,2274.8 1598.7,2292 1612.7,2247 1626.6,2274.8 1640.6,2206.8 1654.6,2212.3 1668.5,2212.3 1682.5,2179 1696.4,2204.4 1710.4,2163.9 1724.4,2188.7 1738.3,2129.3 1752.3,2161.5 1766.2,2136.8 1780.2,2132.7 1794.2,2116.2 1808.1,2364.4 1822.1,1816.3 1836,1880.8 1850,1902.1 1864,1925.4 1877.9,1958.7 1891.9,2001.6 1905.8,2028.4 1919.8,2055.1" stroke="#8000ff"/>
</g>
<path d="M663.4 2679.6v-24 M663.4 1533.2v24 M942.6 2679.6v-24 M942.6 1533.2v24 M1221.8 2679.6v-24 M1221.8 1533.2v24 M1501 2679.6v-24 M1501 1533.2v24 M1780.2 2679.6v-24 M1780.2 1533.2v24 M523.8 2679.6v-14 M523.8 1533.2v14 M803 2679.6v-14 M803 1533.2v14 M1082.2 2679.6v-14 M1082.2 1533.2v14 M1361.4 2679.6v-14 M1361.4 1533.2v14 M1640.6 2679.6v-14 M1640.6 1533.2v14 M1919.8 2679.6v-14 M1919.8 1533.2v14 M510.4 2663.3h24 M1933.5 2663.3h-24 M510.4 2492.1h24 M1933.5 2492.1h-24 M510.4 2320.8h24 M1933.5 2320.8h-24 M510.4 2149.6h24 M1933.5 2149.6h-24 M510.4 1978.3h24 M1933.5 1978.3h-24 M510.4 1807.1h24 M1933.5 1807.1h-24 M510.4 1635.8h24 M1933.5 1635.8h-24 M510.4 2577.7h14 M1933.5 2577.7h-14 M510.4 2406.4h14 M1933.5 2406.4h-14 M510.4 2235.2h14 M1933.5 2235.2h-14 M510.4 2063.9h14 M1933.5 2063.9h-14 M510.4 1892.7h14 M1933.5 1892.7h-14 M510.4 1721.4h14 M1933.5 1721.4h-14 M510.4 1550.2h14 M1933.5 1550.2h-14" stroke="#000" stroke-width="4.8" fill="none" stroke-linecap="butt"/>
<rect x="510.4" y="1533.2" width="1423.1" height="1146.4" fill="none" stroke="#000" stroke-width="5.2"/>
<text transform="translate(486.5 1660.8) scale(1 1.04)" font-size="64" font-weight="bold" text-anchor="end">3.0x10<tspan font-size="37" dy="-35.6">-6</tspan></text>
<text transform="translate(486.5 1832.1) scale(1 1.04)" font-size="64" font-weight="bold" text-anchor="end">2.5x10<tspan font-size="37" dy="-35.6">-6</tspan></text>
<text transform="translate(486.5 2003.3) scale(1 1.04)" font-size="64" font-weight="bold" text-anchor="end">2.0x10<tspan font-size="37" dy="-35.6">-6</tspan></text>
<text transform="translate(486.5 2174.6) scale(1 1.04)" font-size="64" font-weight="bold" text-anchor="end">1.5x10<tspan font-size="37" dy="-35.6">-6</tspan></text>
<text transform="translate(486.5 2345.8) scale(1 1.04)" font-size="64" font-weight="bold" text-anchor="end">1.0x10<tspan font-size="37" dy="-35.6">-6</tspan></text>
<text transform="translate(486.5 2517.1) scale(1 1.04)" font-size="64" font-weight="bold" text-anchor="end">5.0x10<tspan font-size="37" dy="-35.6">-7</tspan></text>
<text transform="translate(482 2688.3) scale(1 1.04)" font-size="64" font-weight="bold" text-anchor="end">0.0</text>
<text transform="translate(663.4 2747.5) scale(1 1.04)" font-size="53" font-weight="bold" text-anchor="middle">-4</text>
<text transform="translate(942.6 2747.5) scale(1 1.04)" font-size="53" font-weight="bold" text-anchor="middle">-2</text>
<text transform="translate(1221.8 2747.5) scale(1 1.04)" font-size="53" font-weight="bold" text-anchor="middle">0</text>
<text transform="translate(1501 2747.5) scale(1 1.04)" font-size="53" font-weight="bold" text-anchor="middle">2</text>
<text transform="translate(1780.2 2747.5) scale(1 1.04)" font-size="53" font-weight="bold" text-anchor="middle">4</text>
<path d="M593.5 1645.3H742.8" stroke="#000000" stroke-width="4.2"/>
<text transform="translate(758.5 1668.3) scale(1 1.04)" font-size="63" font-weight="bold">130 K</text>
<path d="M593.5 1725.3H742.8" stroke="#ff0000" stroke-width="4.2"/>
<text transform="translate(758.5 1748.3) scale(1 1.04)" font-size="63" font-weight="bold">160 K</text>
<path d="M593.5 1805.3H742.8" stroke="#00ff00" stroke-width="4.2"/>
<text transform="translate(758.5 1828.3) scale(1 1.04)" font-size="63" font-weight="bold">190 K</text>
<path d="M593.5 1885.4H742.8" stroke="#0000ff" stroke-width="4.2"/>
<text transform="translate(758.5 1908.4) scale(1 1.04)" font-size="63" font-weight="bold">220 K</text>
<path d="M593.5 1965.4H742.8" stroke="#ff00ff" stroke-width="4.2"/>
<text transform="translate(758.5 1988.4) scale(1 1.04)" font-size="63" font-weight="bold">250 K</text>
<path d="M593.5 2045.4H742.8" stroke="#00ffff" stroke-width="4.2"/>
<text transform="translate(758.5 2068.4) scale(1 1.04)" font-size="63" font-weight="bold">280 K</text>
<path d="M593.5 2125.4H742.8" stroke="#8000ff" stroke-width="4.2"/>
<text transform="translate(758.5 2148.4) scale(1 1.04)" font-size="63" font-weight="bold">310 K</text>
<text transform="translate(196 2227.3) rotate(-90) scale(1 1.03)" font-size="92" font-weight="bold">G<tspan font-size="57" dy="42.1">m</tspan></text>
<text transform="translate(196 2094) rotate(-90) scale(1 1.03)" font-size="92" font-weight="bold">(S)</text>
<text transform="translate(1058.6 2876.4) scale(1 1.03)" font-size="110" font-weight="bold">V<tspan font-size="64" dy="41.7">gs</tspan></text>
<text transform="translate(1236.9 2876.4) scale(1 1.03)" font-size="110" font-weight="bold">(V)</text>
</svg></body></html>
